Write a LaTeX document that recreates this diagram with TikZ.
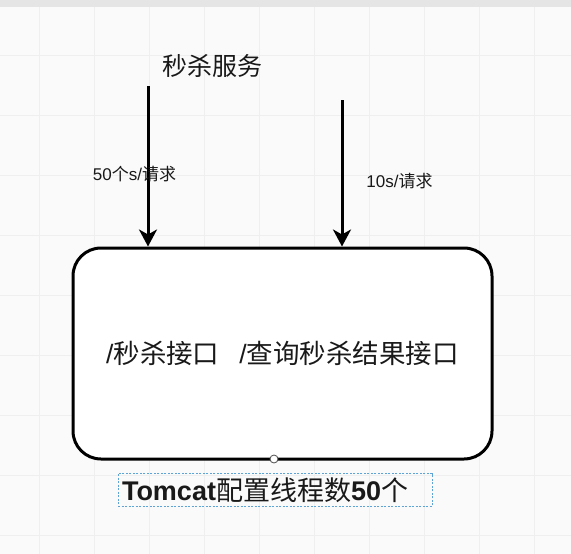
\documentclass[tikz,border=0pt]{standalone}
\usepackage{fontspec}
\setmainfont{Liberation Sans}
\newfontfamily\cjk{Noto Sans CJK SC}
\usetikzlibrary{positioning,arrows.meta}
\newcommand{\zh}[1]{{\cjk #1}}
\definecolor{gridgray}{HTML}{EFEFEF}
\definecolor{selblue}{HTML}{5DA3D6}

\begin{document}
\begin{tikzpicture}[
    x=1pt, y=-1pt,
    every node/.style={align=center, text=black!90},
    box/.style={draw, line width=3pt, rounded corners=28pt, fill=white, minimum width=419pt, minimum height=211pt, font=\fontsize{26.5}{30}\selectfont},
    arrow/.style={-{Stealth[length=17pt,width=18pt,inset=5pt]}, line width=3pt},
    lbl/.style={font=\fontsize{17}{20}\selectfont, inner sep=0pt},
    note/.style={draw=selblue, dash pattern=on 2pt off 1.5pt, line width=0.6pt, text width=306pt, align=left, minimum height=30pt, inner sep=4pt, font=\fontsize{27}{30}\selectfont}
]

% background with grid
\useasboundingbox (0,0) rectangle (571,554);
\fill[black!2] (0,0) rectangle (571,554);
\foreach \gx in {39,94,...,534} \draw[gridgray, line width=0.8pt] (\gx,7) -- (\gx,554);
\foreach \gy in {55,115,...,535} \draw[gridgray, line width=0.8pt] (0,\gy) -- (571,\gy);
\fill[black!10] (0,0) rectangle (571,7);

% Service and its interfaces
\node[font=\fontsize{25}{28}\selectfont] (title) at (212,66) {\zh{秒杀服务}};
\node[box] (api) at (282.5,353.5) {/\zh{秒杀接口}\hspace{20pt}/\zh{查询秒杀结果接口}};
\node[circle, draw=black!70, fill=white, line width=0.8pt, minimum size=8pt, inner sep=0pt] (handle) at (274,459) {};

% Incoming requests
\coordinate (src1) at (148,86);
\coordinate (src2) at (342,100);
\draw[arrow] (src1) -- (src1 |- api.north);
\draw[arrow] (src2) -- (src2 |- api.north);
\node[lbl] (rate1) at (134.5,174) {50\zh{个}s/\zh{请求}};
\node[lbl] (rate2) at (399.5,181) {10s/\zh{请求}};

% Tomcat note
\node[note] (tomcat) at (275,490) {\textbf{Tomcat}\zh{配置线程数}\textbf{50}\zh{个}};

\end{tikzpicture}
\end{document}
